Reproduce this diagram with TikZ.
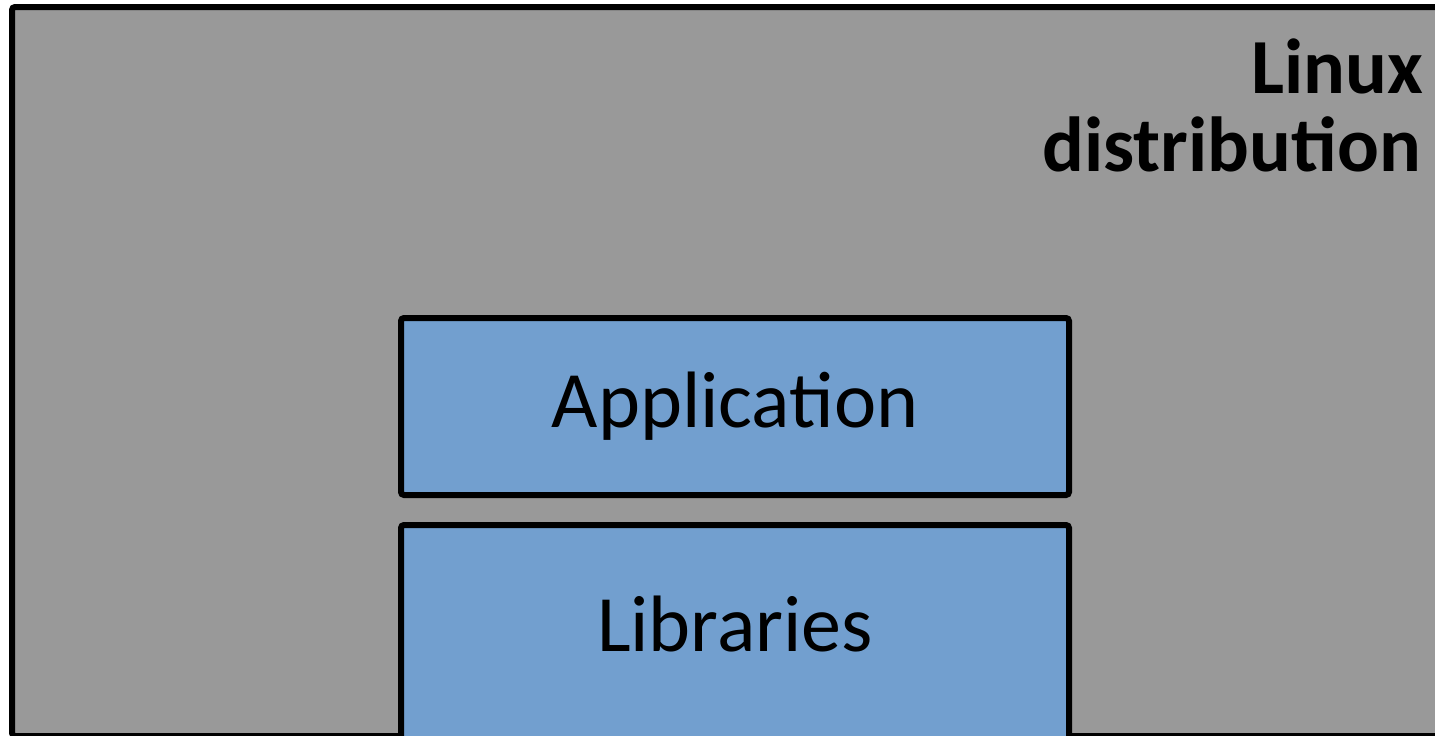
\documentclass[tikz,border=0pt]{standalone}
\usepackage{fontspec}
\setmainfont{Carlito}
\definecolor{distgray}{HTML}{999999}
\definecolor{layerblue}{HTML}{729FCF}
\tikzset{
  framebox/.style={draw=black, line width=6pt, rounded corners=3pt, inner sep=0pt},
  layerbox/.style={framebox, fill=layerblue},
  layertext/.style={anchor=base, inner sep=0pt, font=\fontsize{80}{80}\selectfont},
  disttext/.style={anchor=base east, inner sep=0pt, font=\fontsize{78}{78}\selectfont\bfseries},
}
\begin{document}
\begin{tikzpicture}[x=1pt,y=-1pt]
\useasboundingbox (0,0) rectangle (1435,736);
\node[framebox, fill=distgray, minimum width=1433pt, minimum height=729pt] (dist) at (728.5,371.5) {};
\node[layerbox, minimum width=668pt, minimum height=177pt] (app) at (735,406.5) {};
\node[layerbox, minimum width=668pt, minimum height=215pt] (lib) at (735,632.5) {};
\node[layertext] (apptext) at (735,427) {Application};
\node[layertext] (libtext) at (735,651) {Libraries};
\node[disttext] (linux) at (1423,93) {Linux};
\node[disttext] (distname) at (1421,171) {distribution};
\end{tikzpicture}
\end{document}
